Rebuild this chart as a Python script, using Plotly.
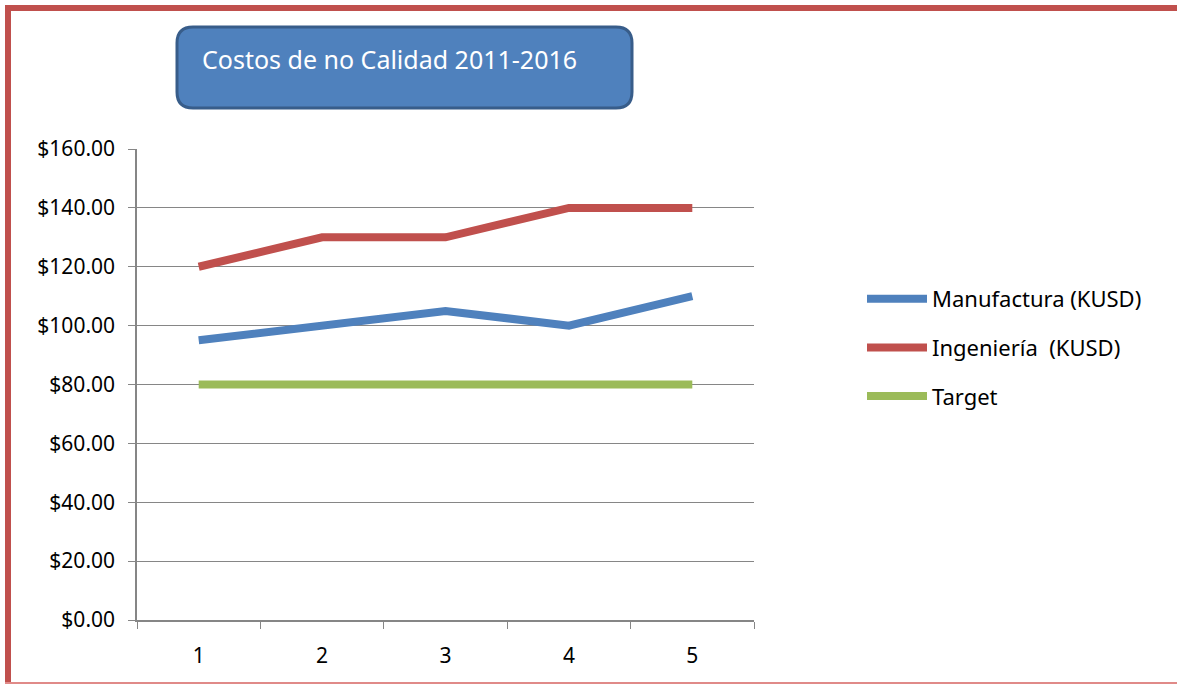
import plotly.graph_objects as go

periodos = ["1", "2", "3", "4", "5"]
manufactura = [95, 100, 105, 100, 110]
ingenieria = [120, 130, 130, 140, 140]
target = [80, 80, 80, 80, 80]
y_ticks = [0, 20, 40, 60, 80, 100, 120, 140, 160]

W, H = 1177, 685
ML, MR, MT, MB = 137, 423, 149, 65
PW, PH = W - ML - MR, H - MT - MB


def px(x):
    return (x - ML) / PW


def py(y):
    return 1 - (y - MT) / PH


def rounded_rect(x0, y0, x1, y1, r):
    # path in paper coords built from pixel corners
    pts = [
        f"M {px(x0 + r)},{py(y0)}",
        f"L {px(x1 - r)},{py(y0)}",
        f"Q {px(x1)},{py(y0)} {px(x1)},{py(y0 + r)}",
        f"L {px(x1)},{py(y1 - r)}",
        f"Q {px(x1)},{py(y1)} {px(x1 - r)},{py(y1)}",
        f"L {px(x0 + r)},{py(y1)}",
        f"Q {px(x0)},{py(y1)} {px(x0)},{py(y1 - r)}",
        f"L {px(x0)},{py(y0 + r)}",
        f"Q {px(x0)},{py(y0)} {px(x0 + r)},{py(y0)} Z",
    ]
    return " ".join(pts)


fig = go.Figure()
series = [
    ("Manufactura (KUSD)", manufactura, "#4F81BD"),
    ("Ingeniería  (KUSD)", ingenieria, "#C0504D"),
    ("Target", target, "#9BBB59"),
]
for name, vals, color in series:
    fig.add_trace(go.Scatter(
        x=periodos, y=vals, mode="lines", name=name, legendgroup=name,
        line=dict(color=color, width=8),
    ))

shapes = [
    # frame
    dict(type="line", xref="paper", yref="paper", x0=px(8), x1=px(8), y0=py(5), y1=py(684),
         line=dict(color="#C0504D", width=6)),
    dict(type="line", xref="paper", yref="paper", x0=px(5), x1=px(W), y0=py(8), y1=py(8),
         line=dict(color="#C0504D", width=6)),
    dict(type="line", xref="paper", yref="paper", x0=px(5), x1=px(W), y0=py(683), y1=py(683),
         line=dict(color="#E08A88", width=2)),
    # title box
    dict(type="path", xref="paper", yref="paper", path=rounded_rect(177, 27, 632, 108, 16),
         fillcolor="#4F81BD", line=dict(color="#385D8A", width=3)),
]

fig.update_layout(
    width=W, height=H,
    margin=dict(l=ML, r=MR, t=MT, b=MB),
    paper_bgcolor="white", plot_bgcolor="white",
    font=dict(family="Noto Sans", size=21, color="#000000"),
    shapes=shapes,
    annotations=[dict(
        xref="paper", yref="paper", x=px(200), y=py(59), xanchor="left", yanchor="middle",
        text="Costos de no Calidad 2011-2016", showarrow=False,
        font=dict(family="Noto Sans", size=25, color="white"),
    )],
    showlegend=True,
    legend=dict(
        x=px(862), y=py(278), xanchor="left", yanchor="top",
        traceorder="grouped", tracegroupgap=17, itemwidth=60,
        font=dict(size=22, color="#000000"), bgcolor="rgba(0,0,0,0)",
    ),
    xaxis=dict(
        type="category", range=[-0.5, 4.5], tickson="boundaries", ticks="outside", ticklen=7,
        tickcolor="#868686", showline=True, linecolor="#868686", linewidth=1.5,
        showgrid=False, tickfont=dict(size=21), ticklabelstandoff=16,
    ),
    yaxis=dict(
        range=[0, 160], tickvals=y_ticks, tickformat="$.2f", ticks="outside", ticklen=7,
        tickcolor="#868686", showline=True, linecolor="#868686", linewidth=1.5,
        showgrid=True, gridcolor="#868686", gridwidth=1, zeroline=False,
        tickfont=dict(size=21), ticklabelstandoff=9,
    ),
)

fig.write_html("out.html", config={"displayModeBar": False},
               post_script="document.body.style.margin='0';")
